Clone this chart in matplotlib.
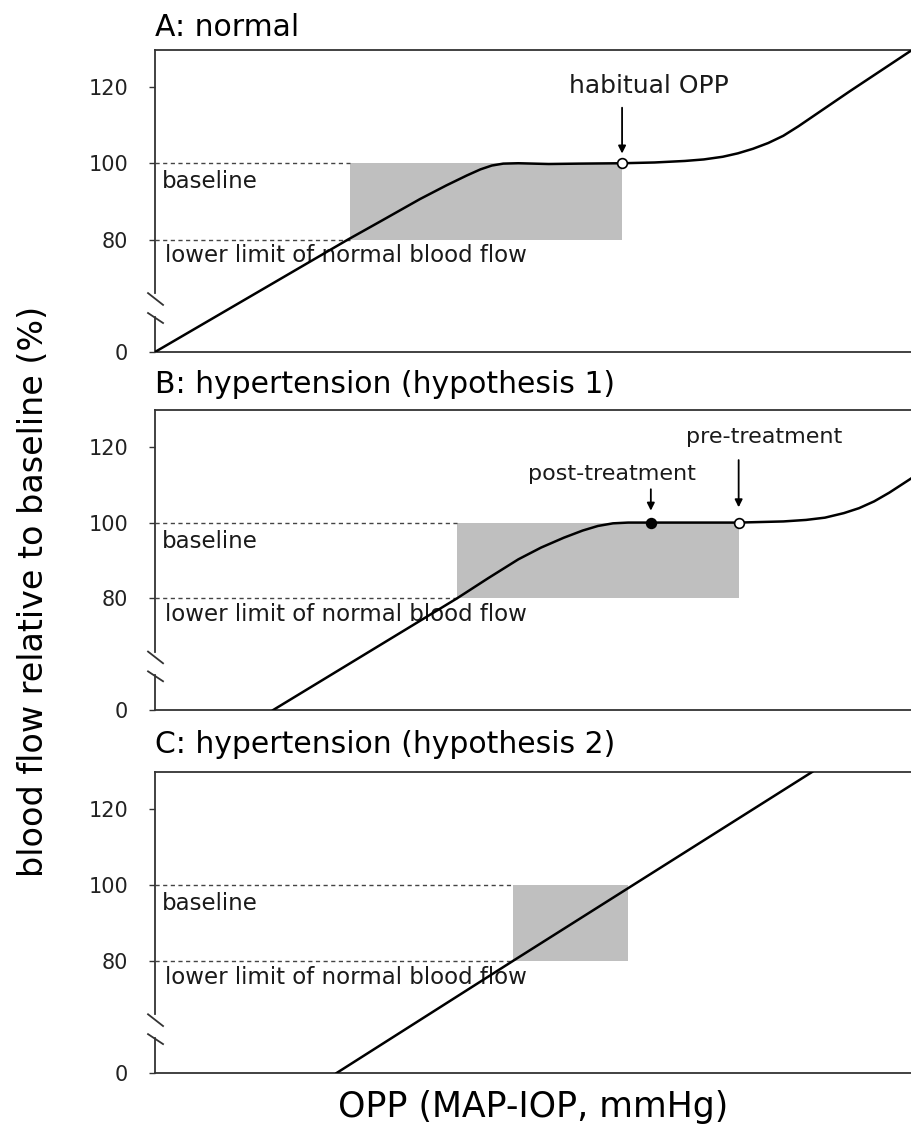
import numpy as np
import matplotlib.pyplot as plt

# -----------------------------------
# Data (OPP in arbitrary units 0-100, blood flow in % of baseline)
# -----------------------------------

opp_a = [0, 25.5, 30, 35, 38.5, 41.2, 43, 44.5, 46, 48, 52, 56, 61.7,
         66, 70, 72.5, 75, 77, 79, 81, 83, 85, 91.8, 100]
flow_a = [0, 80, 85, 90.6, 94.2, 96.8, 98.4, 99.4, 99.9, 100, 99.8, 99.9, 100,
          100.2, 100.6, 101.0, 101.7, 102.6, 103.8, 105.3, 107.2, 109.7, 118.9, 129.7]

opp_b = [15.6, 39.9, 44, 48, 51, 54, 56.5, 58.5, 60.5, 62.5, 65.5, 71, 77.1,
         83, 86, 88.5, 91, 93, 95, 97, 100]
flow_b = [0, 80, 85.3, 90.3, 93.4, 96, 97.9, 99.1, 99.8, 100, 100, 100, 100,
          100.3, 100.7, 101.3, 102.5, 103.8, 105.6, 107.9, 111.8]

opp_c = [24.0, 47.3, 86.8]
flow_c = [0, 80, 129.7]

# shaded range (left, right) between lower limit and baseline
range_a = (25.8, 61.7)
range_b = (39.9, 77.1)
range_c = (47.3, 62.5)

habitual_a = (61.7, 100)
post_b = (65.5, 100)
pre_b = (77.1, 100)

baseline = 100
lower_limit = 80

y_ticks = [0, 80, 100, 120]
titles = [
    "A: normal",
    "B: hypertension (hypothesis 1)",
    "C: hypertension (hypothesis 2)",
]

# -----------------------------------
# Broken y scale: 0-80 squeezed into the bottom of the axis
# -----------------------------------

def fwd(y):
    y = np.asarray(y, dtype=float)
    return np.where(y <= 80, 50.5 + y * 29.5 / 80, y)


def inv(d):
    d = np.asarray(d, dtype=float)
    return np.where(d <= 80, (d - 50.5) * 80 / 29.5, d)


plt.rcParams["font.family"] = "DejaVu Sans"

fig = plt.figure(figsize=(9.12, 11.26), dpi=100)

left = 155 / 912
width = 1 - left
bottoms = [0.6874, 0.3694, 0.0471]
heights = [0.2682, 0.2664, 0.2673]
title_pads = [10, 12, 13.5]

spine_col = "#333333"
gray = "#bfbfbf"


def setup_panel(ax, title, pad):
    ax.set_yscale("function", functions=(fwd, inv))
    ax.set_xlim(0, 100)
    ax.set_ylim(0, 129.7)
    ax.set_xticks([])
    ax.set_yticks(y_ticks)
    ax.set_yticklabels([str(t) for t in y_ticks])
    ax.tick_params(axis="y", direction="out", length=4.3, width=1,
                   color=spine_col, pad=15, labelsize=15, labelcolor="#222222")
    for side in ["top", "bottom"]:
        ax.spines[side].set_color(spine_col)
        ax.spines[side].set_linewidth(1.3)
    ax.spines["right"].set_visible(False)
    ax.spines["left"].set_visible(False)

    # left axis line with a break
    kw = dict(transform=ax.transAxes, clip_on=False, color=spine_col, lw=1.3)
    ax.plot([0, 0], [0.195, 1], **kw)
    ax.plot([0, 0], [0, 0.116], **kw)
    ax.plot([-0.0092, 0.0106], [0.195, 0.156], **kw)
    ax.plot([-0.0092, 0.0106], [0.129, 0.096], **kw)

    ax.set_title(title, loc="left", fontsize=21.5, pad=pad)


def reference_lines(ax, x_range):
    ax.fill_between([x_range[0], x_range[1]], lower_limit, baseline,
                    color=gray, lw=0, zorder=1)
    for yv in [baseline, lower_limit]:
        ax.plot([0, x_range[0]], [yv, yv], color="#444444", lw=1,
                dashes=(3, 2.5), zorder=2)
    ax.annotate("baseline", xy=(0, baseline), xytext=(5, -5),
                textcoords="offset points", va="top", fontsize=16.5,
                color="#1a1a1a", zorder=3)
    ax.annotate("lower limit of normal blood flow", xy=(0, lower_limit),
                xytext=(7, -3.5), textcoords="offset points", va="top",
                fontsize=16.5, color="#1a1a1a", zorder=3)


def arrow(ax, point, tail, tip):
    ax.annotate("", xy=point, xytext=(0, tail), textcoords="offset points",
                arrowprops=dict(arrowstyle="-|>", color="black", lw=1.3,
                                mutation_scale=11, shrinkA=0, shrinkB=tip),
                zorder=5)


axes = []
for i in range(3):
    ax = fig.add_axes([left, bottoms[i], width, heights[i]])
    setup_panel(ax, titles[i], title_pads[i])
    axes.append(ax)

ax_a, ax_b, ax_c = axes

# -----------------------------------
# A: normal
# -----------------------------------

reference_lines(ax_a, range_a)
ax_a.plot(opp_a, flow_a, color="black", lw=1.8, zorder=4)
ax_a.plot(*habitual_a, "o", ms=7, mfc="white", mec="black", mew=1.2, zorder=6)
arrow(ax_a, habitual_a, 40, 7)
ax_a.annotate("habitual OPP", xy=habitual_a, xytext=(19.4, 50.4),
              textcoords="offset points", ha="center", va="baseline",
              fontsize=18, color="#1a1a1a")

# -----------------------------------
# B: hypertension (hypothesis 1)
# -----------------------------------

reference_lines(ax_b, range_b)
ax_b.plot(opp_b, flow_b, color="black", lw=1.8, zorder=4)
ax_b.plot(*post_b, "o", ms=7, mfc="black", mec="black", mew=1.2, zorder=6)
ax_b.plot(*pre_b, "o", ms=7, mfc="white", mec="black", mew=1.2, zorder=6)
arrow(ax_b, post_b, 24, 8.6)
arrow(ax_b, pre_b, 45, 11)
ax_b.annotate("post-treatment", xy=post_b, xytext=(-28, 31),
              textcoords="offset points", ha="center", va="baseline",
              fontsize=16, color="#1a1a1a")
ax_b.annotate("pre-treatment", xy=pre_b, xytext=(18, 57.6),
              textcoords="offset points", ha="center", va="baseline",
              fontsize=16, color="#1a1a1a")

# -----------------------------------
# C: hypertension (hypothesis 2)
# -----------------------------------

reference_lines(ax_c, range_c)
ax_c.plot(opp_c, flow_c, color="black", lw=1.8, zorder=4)

# -----------------------------------
# Axis labels
# -----------------------------------

fig.text(0.037, 0.475, "blood flow relative to baseline (%)", rotation=90,
         ha="center", va="center", fontsize=24)
fig.text(left + width / 2, 1 - 1117 / 1126, "OPP (MAP-IOP, mmHg)",
         ha="center", va="baseline", fontsize=25)

fig.savefig("out.png", dpi=100)
